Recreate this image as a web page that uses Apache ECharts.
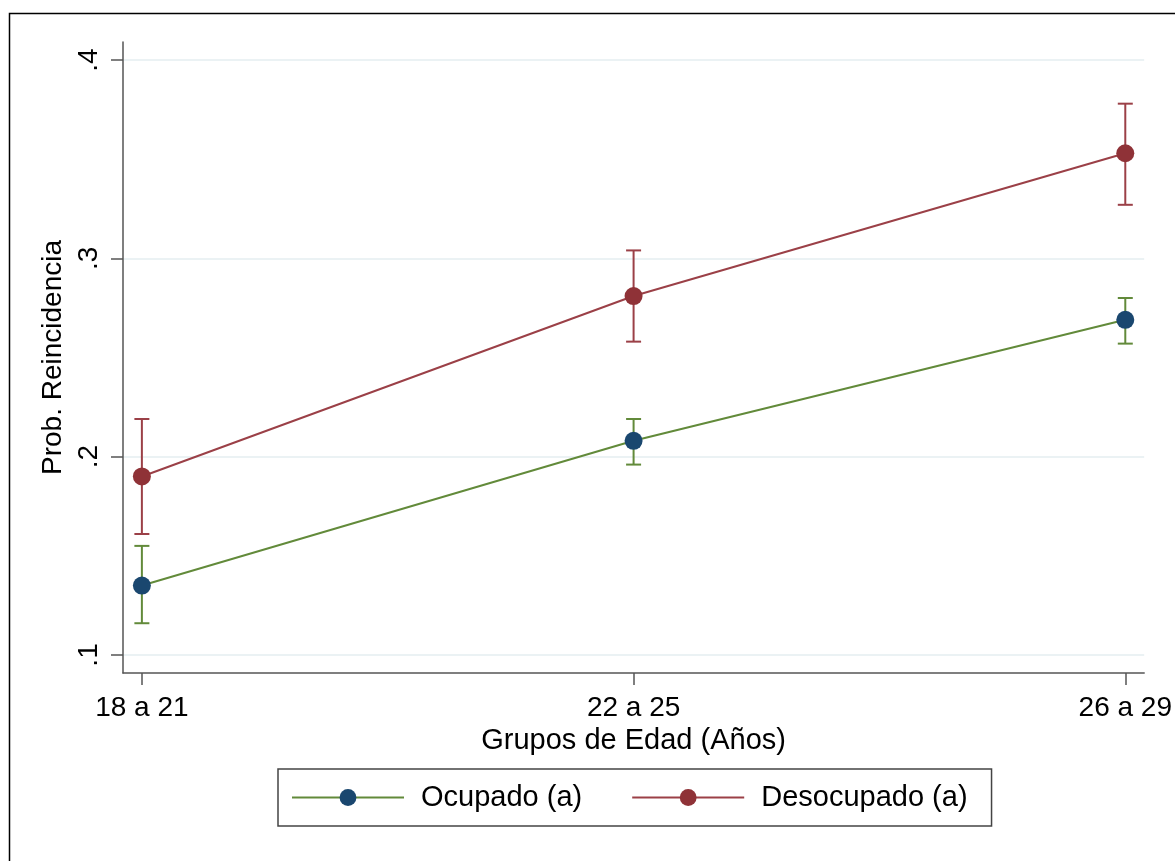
<!DOCTYPE html>
<html>
<head>
<meta charset="utf-8">
<script src="https://cdn.jsdelivr.net/npm/echarts@6/dist/echarts.min.js"></script>
<style>
  html, body { margin: 0; padding: 0; background: #fff; overflow: hidden; }
  #chart { width: 1175px; height: 861px; }
</style>
</head>
<body>
<div id="chart"></div>
<script>
// Age groups on the horizontal axis
const categories = ['18 a 21', '22 a 25', '26 a 29'];
const yTicks = [0.1, 0.2, 0.3, 0.4];

// Predicted recidivism probability with confidence bounds
const ocupado = [0.135, 0.208, 0.269];
const ocupadoLo = [0.116, 0.196, 0.257];
const ocupadoHi = [0.155, 0.219, 0.280];

const desocupado = [0.190, 0.281, 0.353];
const desocupadoLo = [0.161, 0.258, 0.327];
const desocupadoHi = [0.219, 0.304, 0.378];

const FONT = '"Liberation Sans", Arial, sans-serif';
const GREEN = '#628a3a';
const NAVY = '#1a476f';
const MAROON_LINE = '#9b4047';
const MAROON = '#8f3237';

const xPos = categories.map((c, i) => i + 1);

function points(vals) {
  return vals.map((v, i) => [xPos[i], v]);
}
function bars(lo, hi) {
  return lo.map((l, i) => [xPos[i], l, hi[i]]);
}

function errorBar(color) {
  return function (params, api) {
    const x = api.value(0);
    const top = api.coord([x, api.value(2)]);
    const bot = api.coord([x, api.value(1)]);
    const hw = 7.5;
    const style = { stroke: color, lineWidth: 2 };
    return {
      type: 'group',
      children: [
        { type: 'line', shape: { x1: top[0], y1: top[1], x2: bot[0], y2: bot[1] }, style },
        { type: 'line', shape: { x1: top[0] - hw, y1: top[1], x2: top[0] + hw, y2: top[1] }, style },
        { type: 'line', shape: { x1: bot[0] - hw, y1: bot[1], x2: bot[0] + hw, y2: bot[1] }, style }
      ]
    };
  };
}

const chart = echarts.init(document.getElementById('chart'), null, { renderer: 'canvas' });

chart.setOption({
  backgroundColor: '#ffffff',
  animation: false,
  textStyle: { fontFamily: FONT },
  graphic: [{
    type: 'rect',
    left: 7, top: 11,
    shape: { width: 1300, height: 1000 },
    style: { fill: 'none', stroke: '#000', lineWidth: 1.5 },
    silent: true, z: -10
  }],
  grid: { left: 123, right: 25, top: 42, bottom: 188, containLabel: false },
  xAxis: {
    type: 'value',
    min: 0.9616, max: 3.0384,
    name: 'Grupos de Edad (Años)',
    nameLocation: 'middle',
    nameGap: 44,
    nameTextStyle: { fontSize: 29, color: '#000', fontFamily: FONT },
    axisLine: { show: true, lineStyle: { color: '#555', width: 1.5 } },
    axisTick: { show: true, length: 12, customValues: xPos, lineStyle: { color: '#555', width: 1.5 } },
    axisLabel: {
      customValues: xPos,
      fontSize: 28, color: '#000', margin: 21, fontFamily: FONT,
      formatter: v => categories[Math.round(v) - 1]
    },
    splitLine: { show: false }
  },
  yAxis: {
    type: 'value',
    min: 0.0909, max: 0.4091,
    name: 'Prob. Reincidencia',
    nameLocation: 'middle',
    nameGap: 50,
    nameTextStyle: { fontSize: 28, color: '#000', fontFamily: FONT },
    axisLine: { show: true, lineStyle: { color: '#555', width: 1.5 } },
    axisTick: { show: true, length: 12, customValues: yTicks, lineStyle: { color: '#555', width: 1.5 } },
    axisLabel: {
      customValues: yTicks,
      rotate: 90,
      fontSize: 28, color: '#000', margin: 20, fontFamily: FONT,
      formatter: v => '.' + Math.round(v * 10)
    },
    splitLine: { show: true, lineStyle: { color: '#e5eef0', width: 1.5 } }
  },
  legend: {
    data: ['Ocupado (a)', 'Desocupado (a)'],
    left: 278, top: 769,
    orient: 'horizontal',
    itemWidth: 112,
    itemHeight: 21,
    itemGap: 49,
    padding: [14, 24, 14, 13],
    borderColor: '#444',
    borderWidth: 1.5,
    textStyle: { fontSize: 29, color: '#000', fontFamily: FONT, padding: [0, 0, 0, 12], lineHeight: 28 }
  },
  series: [
    {
      name: 'ocupado-ci',
      type: 'custom',
      renderItem: errorBar(GREEN),
      data: bars(ocupadoLo, ocupadoHi),
      encode: { x: 0, y: [1, 2] },
      z: 1, silent: true
    },
    {
      name: 'desocupado-ci',
      type: 'custom',
      renderItem: errorBar(MAROON_LINE),
      data: bars(desocupadoLo, desocupadoHi),
      encode: { x: 0, y: [1, 2] },
      z: 1, silent: true
    },
    {
      name: 'Ocupado (a)',
      type: 'line',
      data: points(ocupado),
      symbol: 'circle',
      symbolSize: 18,
      lineStyle: { color: GREEN, width: 2 },
      itemStyle: { color: NAVY, borderWidth: 0 },
      z: 3
    },
    {
      name: 'Desocupado (a)',
      type: 'line',
      data: points(desocupado),
      symbol: 'circle',
      symbolSize: 18,
      lineStyle: { color: MAROON_LINE, width: 2 },
      itemStyle: { color: MAROON, borderWidth: 0 },
      z: 3
    }
  ]
});
</script>
</body>
</html>
